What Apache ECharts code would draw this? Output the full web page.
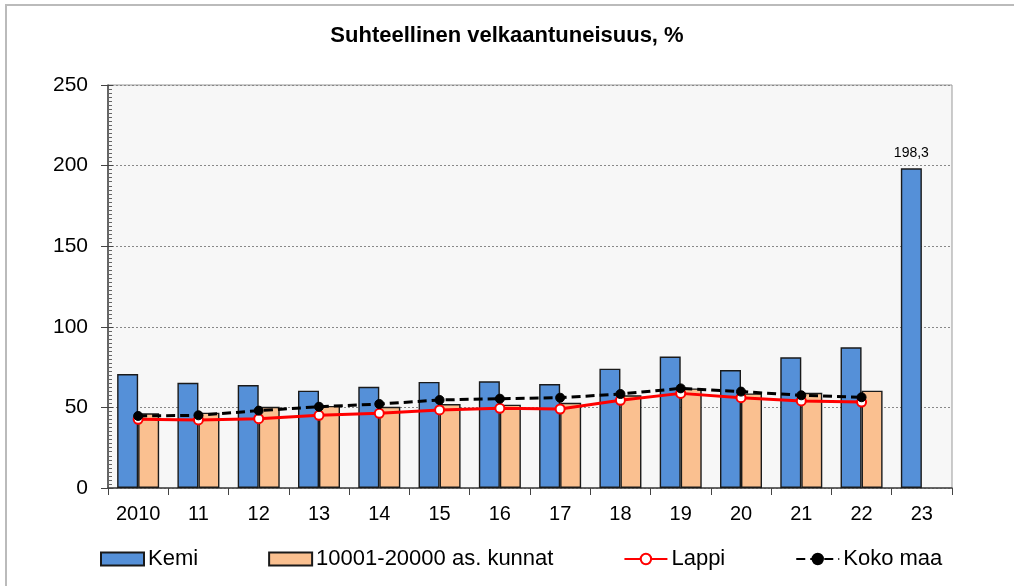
<!DOCTYPE html>
<html>
<head>
<meta charset="utf-8">
<script src="https://cdn.jsdelivr.net/npm/echarts@6/dist/echarts.min.js"></script>
<style>
  html, body { margin: 0; padding: 0; background: #fff; }
  #chartmain { width: 1014px; height: 586px; }
</style>
</head>
<body>
<div id="chartmain"></div>
<script>
var years = ['2010', '11', '12', '13', '14', '15', '16', '17', '18', '19', '20', '21', '22', '23']
var kemi = [70.7, 65.3, 63.9, 60.4, 62.8, 65.8, 66.2, 64.5, 74.0, 81.5, 73.2, 81.1, 87.3, 198.3]
var kunnat = [46.3, 46.7, 50.4, 50.9, 50.4, 52.1, 51.7, 52.9, 57.5, 61.8, 58.7, 59.1, 60.4, null]
var lappi = [42.6, 42.2, 43.0, 45.1, 46.3, 48.4, 49.4, 49.0, 54.4, 58.7, 56.0, 54.0, 53.3, null]
var kokoMaa = [44.7, 45.1, 48.0, 50.4, 52.1, 54.6, 55.4, 56.0, 58.3, 61.8, 59.8, 57.5, 56.3, null]
var yTicks = [0, 50, 100, 150, 200, 250]

var fontName = 'Liberation Sans, Arial, sans-serif'
var axisColor = '#444'

var option = {
  backgroundColor: '#fff',
  textStyle: { fontFamily: fontName },
  animation: false,
  title: {
    text: 'Suhteellinen velkaantuneisuus, %',
    left: 'center',
    top: 20,
    textStyle: { fontSize: 22, fontWeight: 'bold', color: '#000', fontFamily: fontName },
  },
  graphic: [
    {
      type: 'rect',
      shape: { x: 6, y: 5, width: 1100, height: 700 },
      style: { fill: 'none', stroke: '#bbb', lineWidth: 2 },
      silent: true,
    },
  ],
  legend: {
    left: 95,
    top: 543,
    itemWidth: 43,
    itemHeight: 13,
    itemGap: 70,
    textStyle: { fontSize: 22, color: '#000', fontFamily: fontName, padding: [0, 0, 0, -1] },
    data: [
      { name: 'Kemi', icon: 'rect' },
      { name: '10001-20000 as. kunnat', icon: 'rect' },
      'Lappi',
      'Koko maa',
    ],
  },
  grid: {
    left: 108,
    right: 62,
    top: 85,
    bottom: 98,
    show: true,
    backgroundColor: '#f7f7f7',
    borderColor: '#999',
    borderWidth: 1,
  },
  xAxis: {
    type: 'category',
    data: years,
    boundaryGap: true,
    axisLine: { show: true, lineStyle: { color: axisColor, width: 1.5 } },
    axisTick: { show: true, alignWithLabel: false, length: 7, lineStyle: { color: axisColor } },
    axisLabel: { fontSize: 20, color: '#000', margin: 16 },
  },
  yAxis: [
    {
      type: 'value',
      min: yTicks[0],
      max: yTicks[yTicks.length - 1],
      interval: 50,
      axisLine: { show: true, lineStyle: { color: axisColor, width: 1.5 } },
      axisTick: { show: true, length: 7, lineStyle: { color: axisColor } },
      axisLabel: { fontSize: 21, color: '#000', margin: 20 },
      splitLine: { show: true, lineStyle: { color: '#888', type: [2, 2], width: 1 } },
    },
    {
      type: 'value',
      position: 'left',
      min: yTicks[0],
      max: yTicks[yTicks.length - 1],
      interval: 50,
      axisLine: { show: false },
      axisTick: { show: true, inside: true, length: 5, lineStyle: { color: axisColor } },
      minorTick: { show: true, splitNumber: 20, length: 4, lineStyle: { color: '#666' } },
      axisLabel: { show: false },
      splitLine: { show: false },
    },
  ],
  series: [
    {
      name: 'Kemi',
      type: 'bar',
      barWidth: 21,
      barGap: '0%',
      itemStyle: { color: '#5590d8', borderColor: '#1a1a1a', borderWidth: 1.4 },
      label: {
        show: true,
        position: 'top',
        distance: 8,
        fontSize: 14,
        color: '#000',
        formatter: function (p) {
          return p.dataIndex === years.length - 1 ? String(p.value).replace('.', ',') : ''
        },
      },
      data: kemi,
    },
    {
      name: '10001-20000 as. kunnat',
      type: 'bar',
      barWidth: 21,
      barGap: '0%',
      itemStyle: { color: '#fac090', borderColor: '#1a1a1a', borderWidth: 1.4 },
      data: kunnat,
    },
    {
      name: 'Lappi',
      type: 'line',
      symbol: 'circle',
      symbolSize: 9,
      z: 3,
      lineStyle: { color: '#ff0000', width: 3 },
      itemStyle: { color: '#fff', borderColor: '#ff0000', borderWidth: 2 },
      data: lappi,
    },
    {
      name: 'Koko maa',
      type: 'line',
      symbol: 'circle',
      symbolSize: 9,
      z: 4,
      lineStyle: { color: '#000', width: 3, type: [9, 5] },
      itemStyle: { color: '#000', borderColor: '#000', borderWidth: 1 },
      data: kokoMaa,
    },
  ],
}

var myChart = echarts.init(document.getElementById('chartmain'), null, { renderer: 'canvas' })
myChart.setOption(option)
</script>
</body>
</html>
